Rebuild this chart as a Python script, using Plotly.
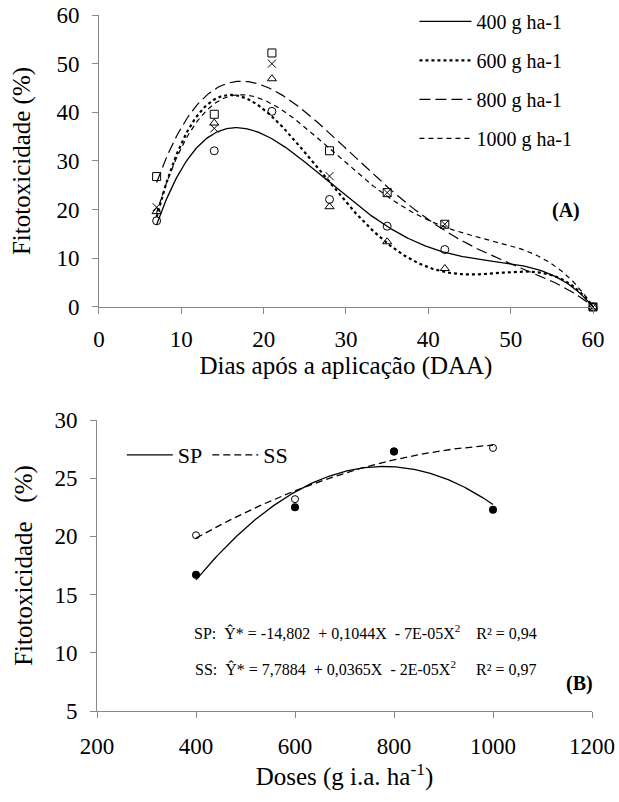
import numpy as np
import plotly.graph_objects as go

# ---------------- Panel A data ----------------
daa = [7, 14, 21, 28, 35, 42, 60]
fito_400 = [17.7, 32.1, 40.2, 22.1, 16.6, 11.8, 0.0]
fito_600 = [19.6, 37.8, 46.9, 20.6, 13.4, 7.9, 0.0]
fito_800 = [26.8, 39.6, 52.2, 32.1, 23.5, 17.0, 0.0]
fito_1000 = [20.5, 36.7, 50.0, 26.9, 23.5, 17.0, 0.0]
dose_labels = ["400 g ha-1", "600 g ha-1", "800 g ha-1", "1000 g ha-1"]

# ---------------- Panel B data ----------------
doses = [400, 600, 800, 1000]
fito_sp = [16.7, 22.5, 27.3, 22.3]
fito_ss = [20.1, 23.2, 27.3, 27.6]
eq_sp = "SP:\u00a0 Ŷ* = -14,802\u00a0 + 0,1044X\u00a0 - 7E-05X<sup>2</sup>\u00a0\u00a0\u00a0 R² = 0,94"
eq_ss = "SS:\u00a0 Ŷ* = 7,7884\u00a0 + 0,0365X\u00a0 - 2E-05X<sup>2</sup>\u00a0\u00a0\u00a0\u00a0 R² = 0,97"

FONT = "Liberation Serif, Times New Roman, serif"
AXC = "#888888"

fig = go.Figure()

series_a = [fito_400, fito_600, fito_800, fito_1000]
symbols = ["circle-open", "triangle-up-open", "square-open", "x-thin-open"]
line_styles = [
    dict(color="black", width=1.3, dash="solid"),
    dict(color="black", width=2.2, dash="dot"),
    dict(color="black", width=1.2, dash="11px,5px"),
    dict(color="black", width=1.2, dash="5px,4px"),
]

xs_a = np.linspace(min(daa), max(daa), 300)
for vals, sym in zip(series_a, symbols):
    fig.add_trace(go.Scatter(
        x=daa, y=vals, mode="markers", showlegend=False, cliponaxis=False,
        marker=dict(symbol=sym, size=8, color="black", line=dict(color="black", width=1)),
        xaxis="x", yaxis="y"))

for i, (vals, lab, ls) in enumerate(zip(series_a, dose_labels, line_styles)):
    coef = np.polyfit(daa, vals, 4)
    fig.add_trace(go.Scatter(
        x=xs_a, y=np.polyval(coef, xs_a), mode="lines", name=lab,
        line=ls, legend="legend", legendgroup=f"g{i}", cliponaxis=False,
        xaxis="x", yaxis="y"))

# Panel B
xs_b = np.linspace(min(doses), max(doses), 200)
c_sp = np.polyfit(doses, fito_sp, 2)
c_ss = np.polyfit(doses, fito_ss, 2)
fig.add_trace(go.Scatter(x=xs_b, y=np.polyval(c_sp, xs_b), mode="lines", name="SP",
                         line=dict(color="black", width=1.3), legend="legend2",
                         xaxis="x2", yaxis="y2"))
fig.add_trace(go.Scatter(x=xs_b, y=np.polyval(c_ss, xs_b), mode="lines", name="SS",
                         line=dict(color="black", width=1.3, dash="7px,4px"), legend="legend2",
                         xaxis="x2", yaxis="y2"))
fig.add_trace(go.Scatter(x=doses, y=fito_ss, mode="markers", showlegend=False,
                         marker=dict(symbol="circle-open", size=7, color="black",
                                     line=dict(color="black", width=1)),
                         xaxis="x2", yaxis="y2"))
fig.add_trace(go.Scatter(x=doses, y=fito_sp, mode="markers", showlegend=False,
                         marker=dict(symbol="circle", size=8, color="black"),
                         xaxis="x2", yaxis="y2"))

axis_common = dict(showline=True, linecolor=AXC, linewidth=1, ticks="outside",
                   ticklen=6, tickcolor=AXC, tickwidth=1, showgrid=False, zeroline=False,
                   automargin=False, ticklabeloverflow="allow",
                   tickfont=dict(family=FONT, size=23, color="black"))

fig.update_layout(
    width=619, height=802,
    margin=dict(l=97, r=26, t=15, b=91, autoexpand=False),
    paper_bgcolor="white", plot_bgcolor="white",
    font=dict(family=FONT, color="black"),
    hovermode=False,
    xaxis=dict(domain=[0.004, 1], range=[0, 60], dtick=10, anchor="y",
               title=dict(text="Dias após a aplicação (DAA)", font=dict(family=FONT, size=25), standoff=4),
               ticklabelstandoff=5, **axis_common),
    yaxis=dict(domain=[0.5805, 1], range=[0, 60], dtick=10, anchor="x",
               title=dict(text="Fitotoxicidade (%)", font=dict(family=FONT, size=25), standoff=18),
               ticklabelstandoff=8, **axis_common),
    xaxis2=dict(domain=[0, 0.998], range=[200, 1200], dtick=200, anchor="y2",
                title=dict(text="Doses (g i.a. ha<sup>-1</sup>)", font=dict(family=FONT, size=25), standoff=2),
                ticklabelstandoff=8, **axis_common),
    yaxis2=dict(domain=[0, 0.4181], range=[5, 30], dtick=5, anchor="x2",
                title=dict(text="Fitotoxicidade\u00a0\u00a0\u00a0(%)", font=dict(family=FONT, size=25), standoff=14),
                ticklabelstandoff=8, **axis_common),
    legend=dict(x=0.64, y=1.019, xanchor="left", yanchor="top", bgcolor="rgba(0,0,0,0)",
                font=dict(family=FONT, size=20), itemwidth=52, tracegroupgap=10,
                traceorder="grouped"),
    legend2=dict(x=0.05, y=0.398, xanchor="left", yanchor="top", orientation="h",
                 bgcolor="rgba(0,0,0,0)", font=dict(family=FONT, size=22), itemwidth=46),
    showlegend=True,
    annotations=[
        dict(text="<b>(A)</b>", x=56.7, y=19.9, xref="x", yref="y", showarrow=False,
             font=dict(family=FONT, size=20)),
        dict(text="<b>(B)</b>", x=1174, y=7.4, xref="x2", yref="y2", showarrow=False,
             font=dict(family=FONT, size=20)),
        dict(text=eq_sp, x=392, y=11.8, xref="x2", yref="y2", xanchor="left", showarrow=False,
             font=dict(family=FONT, size=16)),
        dict(text=eq_ss, x=394, y=8.7, xref="x2", yref="y2", xanchor="left", showarrow=False,
             font=dict(family=FONT, size=16)),
    ],
)

fig.write_html("out.html", config={"displayModeBar": False},
               post_script="document.body.style.margin='0';document.body.style.overflow='hidden';")
